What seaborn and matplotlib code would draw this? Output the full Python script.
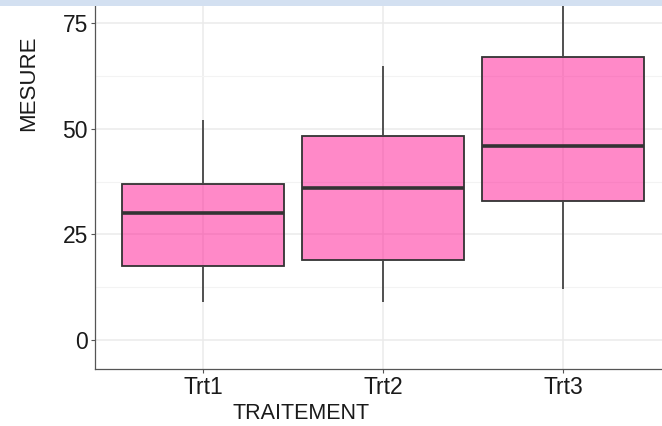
"""
Boxplot of MESURE by TRAITEMENT.
"""

from matplotlib import pyplot as plt
from matplotlib.patches import Rectangle
import pandas as pd
import numpy as np
import seaborn as sns

treatments = ["Trt1", "Trt2", "Trt3"]
# five values per group: min, Q1, median, Q3, max
trt1_values = [9, 17.5, 30, 37, 52]
trt2_values = [9, 19, 36, 48.3, 65]
trt3_values = [12, 33, 46, 67, 95]
y_ticks = [0, 25, 50, 75]

df = pd.DataFrame(
    {
        "TRAITEMENT": np.repeat(treatments, 5),
        "MESURE": trt1_values + trt2_values + trt3_values,
    }
)

sns.set_theme(style="white")
plt.rcParams["font.family"] = ["Liberation Sans", "DejaVu Sans"]

fig = plt.figure(figsize=(6.62, 4.26), dpi=100)
# panel is larger than the picture: the original screenshot was cropped
ax = fig.add_axes([95 / 662, 57 / 426, 576 / 662, 572 / 426])

sns.boxplot(
    data=df,
    x="TRAITEMENT",
    y="MESURE",
    order=treatments,
    width=0.9,
    whis=(0, 100),
    showcaps=False,
    linecolor="#333333",
    linewidth=1.3,
    boxprops=dict(facecolor=(1.0, 0.078, 0.576, 0.5), edgecolor="#333333"),
    medianprops=dict(color="#333333", linewidth=2.6),
    whiskerprops=dict(color="#444444", linewidth=1.3),
    ax=ax,
)

ax.set_xlim(-0.6, 2.6)
ax.set_ylim(-6.87, 128.6)
ax.set_yticks(y_ticks)
ax.set_yticks([12.5, 37.5, 62.5, 87.5], minor=True)

ax.set_axisbelow(True)
ax.grid(True, which="major", color="#EBEBEB", linewidth=1.1)
ax.grid(True, which="minor", axis="y", color="#F3F3F3", linewidth=0.8)

for side in ["top", "right"]:
    ax.spines[side].set_visible(False)
for side in ["left", "bottom"]:
    ax.spines[side].set_color("#555555")
    ax.spines[side].set_linewidth(0.9)

ax.tick_params(axis="both", which="major", length=3, width=0.8, color="#555555",
               labelsize=16.5, labelcolor="#1a1a1a", pad=2, left=True, bottom=True)
ax.tick_params(axis="y", which="minor", length=0)

ax.set_xlabel("TRAITEMENT", fontsize=15.5, color="#1a1a1a")
ax.set_ylabel("MESURE", fontsize=16, color="#1a1a1a")
ax.xaxis.set_label_coords(0.3585, -0.059)
ax.yaxis.set_label_coords(-0.097, 0.5)

# light blue band at the very top of the screenshot
fig.add_artist(Rectangle((0, 1 - 6 / 426), 1, 6 / 426, transform=fig.transFigure,
                         facecolor="#D3E0F1", edgecolor="none", zorder=10))

plt.savefig("out.png", dpi=100)
